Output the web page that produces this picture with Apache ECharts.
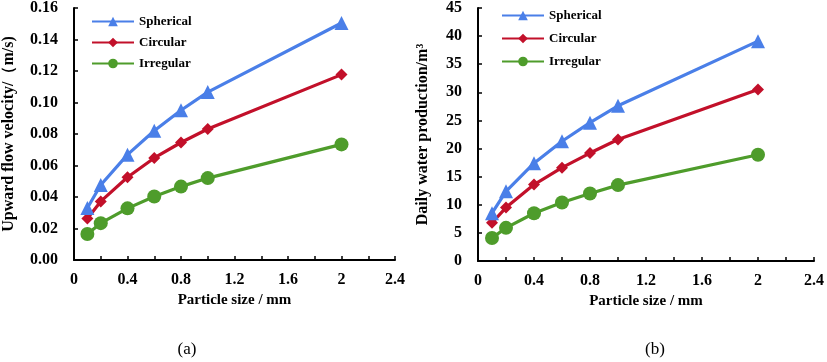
<!DOCTYPE html>
<html>
<head>
<meta charset="utf-8">
<script src="https://cdn.jsdelivr.net/npm/echarts@6/dist/echarts.min.js"></script>
<style>html,body{margin:0;padding:0;background:#fff;}#c{width:827px;height:362px;}</style>
</head>
<body>
<div id="c"></div>
<script>
var sizes = [0.1, 0.2, 0.4, 0.6, 0.8, 1.0, 2.0];
var seriesNames = ['Spherical', 'Circular', 'Irregular'];
var velSpherical = [0.033, 0.0476, 0.0669, 0.0821, 0.0951, 0.1066, 0.1505];
var velCircular = [0.0263, 0.0372, 0.0525, 0.0648, 0.0746, 0.0832, 0.1177];
var velIrregular = [0.0165, 0.0234, 0.0328, 0.0403, 0.0466, 0.052, 0.0734];
var waterSpherical = [8.5, 12.4, 17.4, 21.3, 24.6, 27.6, 39.1];
var waterCircular = [6.8, 9.5, 13.6, 16.6, 19.2, 21.6, 30.5];
var waterIrregular = [4.1, 5.9, 8.5, 10.4, 12.0, 13.5, 18.9];
var captions = ['(a)', '(b)'];
var xName = 'Particle size / mm';
var yNameA = 'Upward flow velocity/（m/s)';
var yNameB = 'Daily water production/m\u00b3';

var colors = ['#4A7FE8', '#C2102A', '#4E9C2B'];
var symbols = ['triangle', 'diamond', 'circle'];
var symSizes = [14, 12, 14];
var font = '"Liberation Serif", "Times New Roman", serif';

function pairs(ys) { return sizes.map(function (x, i) { return [x, ys[i]]; }); }

function xAxis(gi) {
  return {
    gridIndex: gi, type: 'value', min: 0, max: 2.4, interval: 0.4,
    name: xName, nameLocation: 'middle', nameGap: 31,
    nameTextStyle: { fontFamily: font, fontWeight: 'bold', fontSize: 15, color: '#000' },
    axisLine: { show: true, onZero: false, lineStyle: { color: '#000', width: 2 } },
    axisTick: { show: true, inside: true, length: 4, lineStyle: { color: '#000', width: 1.5 } },
    minorTick: { show: true, splitNumber: 2, length: 4, lineStyle: { color: '#000', width: 1.5 } },
    axisLabel: { fontFamily: font, fontWeight: 'bold', fontSize: 16, color: '#000', margin: 12,
      formatter: function (v) { return String(Math.round(v * 10) / 10); } },
    splitLine: { show: false }
  };
}
function yAxis(gi, max, interval, nameStr, gap, dec) {
  return {
    gridIndex: gi, type: 'value', min: 0, max: max, interval: interval,
    name: nameStr, nameLocation: 'middle', nameGap: gap,
    nameTextStyle: { fontFamily: font, fontWeight: 'bold', fontSize: 16, color: '#000' },
    axisLine: { show: true, lineStyle: { color: '#000', width: 2 } },
    axisTick: { show: true, inside: true, length: 4, lineStyle: { color: '#000', width: 1.5 } },
    axisLabel: { fontFamily: font, fontWeight: 'bold', fontSize: 16, color: '#000', margin: 16,
      formatter: function (v) { return v.toFixed(dec); } },
    splitLine: { show: false }
  };
}
function mkSeries(gi, arrs) {
  return arrs.map(function (ys, k) {
    return {
      name: seriesNames[k], type: 'line', xAxisIndex: gi, yAxisIndex: gi,
      data: pairs(ys), symbol: symbols[k], symbolSize: symSizes[k], smooth: false,
      lineStyle: { color: colors[k], width: 3.2 }, itemStyle: { color: colors[k] },
      showAllSymbol: true, animation: false, z: 3 - k
    };
  });
}
function legend(left, top, gap) {
  return {
    left: left, top: top, orient: 'vertical', itemGap: gap, itemWidth: 42, itemHeight: 12,
    padding: 0, data: seriesNames, selectedMode: false,
    textStyle: { fontFamily: font, fontWeight: 'bold', fontSize: 13, color: '#000', padding: [0, 0, 0, 0] }
  };
}

var chart = echarts.init(document.getElementById('c'), null, { renderer: 'canvas' });
chart.setOption({
  backgroundColor: '#fff',
  animation: false,
  grid: [
    { left: 68, right: 432, top: 6, bottom: 102, containLabel: false },
    { left: 478, right: 9, top: 8, bottom: 101, containLabel: false }
  ],
  xAxis: [xAxis(0), xAxis(1)],
  yAxis: [yAxis(0, 0.16, 0.02, yNameA, 57, 2), yAxis(1, 45, 5, yNameB, 47, 0)],
  legend: [legend(91, 15, 8), legend(501, 9, 10)],
  series: mkSeries(0, [velSpherical, velCircular, velIrregular])
    .concat(mkSeries(1, [waterSpherical, waterCircular, waterIrregular])),
  title: [
    { text: captions[0], left: 187, top: 341, textAlign: 'center', padding: 0,
      textStyle: { fontFamily: font, fontWeight: 'normal', fontSize: 17, color: '#000' } },
    { text: captions[1], left: 655, top: 341, textAlign: 'center', padding: 0,
      textStyle: { fontFamily: font, fontWeight: 'normal', fontSize: 17, color: '#000' } }
  ]
});
</script>
</body>
</html>
